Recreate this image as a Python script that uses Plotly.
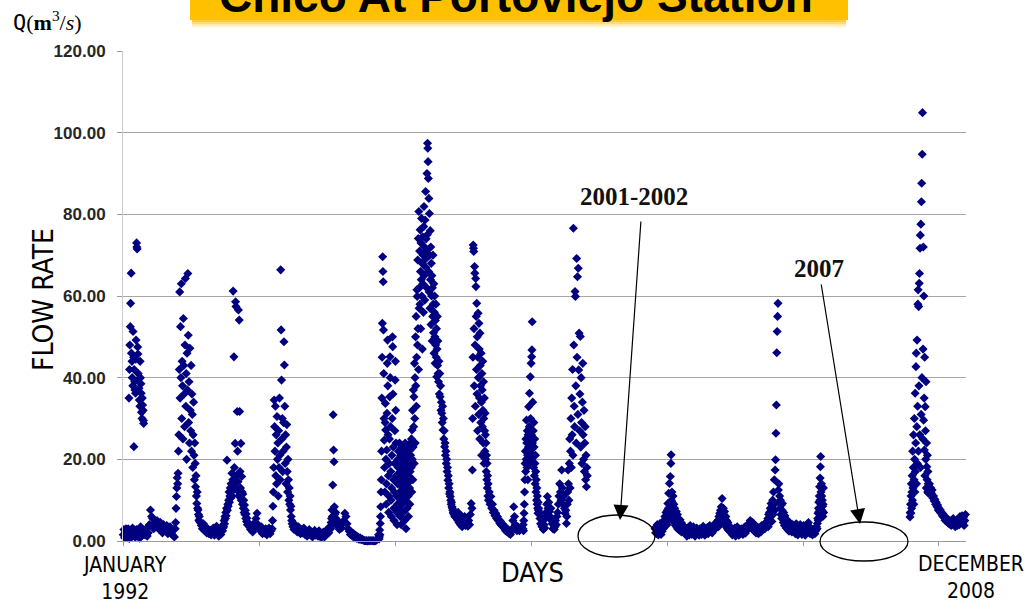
import numpy as np
import pandas as pd
import plotly.graph_objects as go

# ---------------- DATA (daily flow, Chico river at Portoviejo) ----------------
# each season: start = days after 1992-01-01, step = days between readings
BASE_DATE = "1992-01-01"

q1992_jan = [1.5, 2.8, 0.8, 2.2, 3, 1.2]
q1992_wet = [1.2, 2.5, 0.8, 3, 1.6, 2.2, 35, 0.6, 42, 48, 1.8, 52.5, 58.2, 2.6, 65.6, 46, 1, 44, 40, 3.2,
             38, 51.3, 1.4, 45, 23.1, 42, 2, 39, 37, 0.9, 36.2, 44.5, 49.2, 2.8, 73, 72, 71.5, 1.5, 47.5, 45.8,
             41, 2.2, 39.6, 37.4, 34.5, 0.7, 33, 44, 40, 3.5, 38.5, 36.2, 31.5, 1.3, 30, 35, 33.3, 2.4, 32, 29.5, 28.8]
q1992_dry = [2.5, 1.5, 3, 1.2, 2, 4, 7.6, 6, 5.5, 3, 4.5, 3.5, 5, 4, 2.8, 4.6, 3.5, 2, 4, 3, 2.5, 3.8, 1.8,
             2.5, 3.5, 2, 1.5, 2.8, 1]
q1993_wet = [3, 4.5, 8, 10.9, 13, 15.5, 14, 16.6, 22, 26, 42, 61, 35, 52.5, 40, 63, 30, 44, 38, 25,
             54.5, 43, 36, 28, 48, 64.3, 33, 41, 20, 46, 37, 65.5, 50.4, 29, 39, 24, 47.2, 32, 27, 43,
             22, 36, 31, 18, 26, 34, 21, 15, 24, 19, 13.3, 16, 11, 9.2, 12, 8, 7.6, 6.5, 5.1, 6, 4.8]
q1993_dry = [4.5, 3.8, 3, 4.2, 2.5, 3.4, 2, 3, 1.8, 2.6, 1.5, 2.2, 3.2, 1.4, 2.5, 3.6, 2, 1.2, 2.8, 1.6, 2.4]
q1994_wet = [2.5, 3.2, 4, 3.5, 5, 4.2, 6, 5.5, 7, 6.2, 8, 19.8, 7.5, 9, 8.5, 10, 12, 9.5, 11, 13,
             10.5, 14, 12, 16.6, 11, 15, 61.2, 13.5, 45.1, 18, 14, 23.9, 58.6, 57.4, 16, 12.5, 31.7, 22, 14.5, 56.6,
             11, 54.1, 31.7, 17, 13, 23.9, 10, 15.8, 12, 9, 11.5, 8, 10, 7, 8.8, 6.5, 7.5, 5.5, 6.6, 4.8,
             5.6, 4, 4.6]
q1994_dry = [4.2, 3.5, 2.8, 3.6, 2.2, 3, 4.5, 5.5, 6.8, 4, 3.2, 2.5, 3.5, 1.8, 2.6, 2, 3, 1.5, 2.4, 3.2, 1.8, 2.5]
q1995_wet = [3, 5, 8.5, 12, 18, 34.5, 28, 22, 33, 16, 26, 14, 30.5, 20, 24, 11, 27, 18, 35, 21,
             15, 66.4, 51.7, 39.4, 25, 30, 17, 22, 29, 48.8, 43.1, 33, 19, 26, 14, 23, 28.5, 17, 12, 20,
             15, 10, 13, 9, 11, 7.6, 8.5, 6, 5, 4.2]
q1995_dry = [3.5, 2.8, 4, 3, 2.2, 3.5, 2.5, 1.8, 2.8, 2, 3.2, 1.6, 2.4, 1.2, 2, 2.8, 1.5, 2.2, 1, 1.8,
             2.6, 1.4, 2, 1.2, 2.5, 1.6, 0.8, 1.5, 2.2, 1, 1.8, 2.5, 3, 2, 3.5]
q1996_wet = [3, 4.5, 5.5, 7.6, 6, 13.7, 30.9, 22.3, 19.4, 8.4, 6.5, 5.1, 7, 5.5, 4.5, 3.8, 5, 4]
q1996_dry = [3.5, 2.8, 4, 3.2, 4.5, 5, 6.8, 6, 4.2, 3, 2.4, 1.6, 2.2, 1.2, 1.8, 0.8, 1.4, 0.6, 1, 0.4,
             0.8, 0.3, 0.5, 0.2]
q1996_zero = [0.1, 0.05, 0.1, 0, 0.1, 0.05, 0.1, 0.05, 0.1, 0, 0.1, 0.2, 0.5, 1.5]
q1997_rise = [0.5, 1, 2.7, 1.5, 4.3, 6, 8.4, 12]
q1997_wet = [15, 22, 35, 45, 53.3, 69.6, 66, 63.5, 51.7, 41, 30, 24.7, 18, 12, 29, 33.7, 27.2, 20, 9, 14,
             22.3, 31.3, 43.5, 49.2, 38, 26, 16, 7, 11, 19, 25, 35.3, 45.1, 40, 28, 17, 10, 6, 13, 21,
             30, 50, 47.6, 36, 23, 15, 8, 5, 12, 19, 27, 39.4, 44, 32, 24, 16, 11, 7, 4, 9, 14, 20, 18]
q1997_mid = [22, 15, 8, 19, 24, 12, 6, 17, 21, 10, 4, 14, 23, 18, 9, 13, 20, 16, 7, 11,
             22, 19, 12, 5, 15, 24, 17, 10, 3, 13, 21, 18, 8, 14, 23, 20, 11, 6, 16, 22, 19, 13, 9, 17, 24, 21, 15]
q1998_rise = [18, 25, 12, 27.2, 20, 32, 15, 23, 37, 28, 35.3, 19, 43.5, 30, 40, 24, 50, 38, 55, 33,
              45, 61.5, 59.9, 48, 68.8, 52, 74.1, 42, 80.7, 57]
q1998_peak = [62, 71, 58, 76.2, 66, 52, 73, 64, 79, 60, 68, 47, 74.5, 63, 70, 56, 77, 81.9, 65, 72,
              59, 78.6, 69, 85.6, 67, 74, 71, 62, 90, 75, 97.4, 96.2, 92.9, 88.8, 66, 83.9, 61, 80.2, 70, 57,
              76, 64, 72, 53, 68, 60, 65, 49, 62, 55, 70, 58, 51, 63, 46, 56, 60, 50, 43.5, 54,
              48, 58, 45, 52, 40.2, 47, 55, 43, 49, 41]
q1998_fall = [39, 44, 36, 41, 35.3, 38, 32, 34, 31.3, 29, 33, 27.2, 30, 25, 27, 23.1, 24, 21, 22, 19,
              20, 17, 18, 14.9, 16, 13, 14, 11.5, 12, 10.9, 10, 9, 9.5, 8.4, 8, 7.5, 7, 6.8, 6.5, 7.2,
              6, 6.5, 5.8]
q1998_dry = [6, 5.2, 7, 4.5, 5.8, 4, 6.2, 3.5, 5, 4.2, 6, 3.8, 5.5, 4.5, 3.6, 5, 4, 6.5, 9.2, 8]
q1999_wet = [17.4, 30, 45, 72.5, 71.7, 70.9, 52, 38, 67.2, 65.6, 48, 33, 64.3, 62.3, 55, 42, 58.2, 36, 50, 27,
             45, 55.8, 40, 31, 53.3, 47, 35, 25, 50.9, 43, 38, 29, 46, 34, 21, 41, 37, 28, 44, 32,
             24, 39, 30, 19, 35, 27, 22, 31.3, 26, 20, 24, 17, 21, 15, 19, 13, 16, 11, 14, 10]
q1999_dry = [12, 9, 10.9, 8, 9, 7, 7.5, 6.2, 6.8, 5.5, 6, 5, 5.2, 4.3, 4.8, 3.8, 4.2, 3.5, 3.8, 3,
             2.5, 3.2, 2.2, 2.8, 1.9, 2.4, 1.6, 2.2, 3, 5, 8.4, 6, 4, 3, 2.5, 3.5, 3, 2.5]
q2000_wet = [3, 4, 2.5, 5, 6.8, 9, 12, 15, 19, 22, 17, 25, 20, 29.6, 24, 18, 27, 21, 15, 26,
             23, 32.9, 19, 28, 36.2, 22, 25, 40.2, 30, 20, 43.5, 26, 45.1, 46.8, 53.7, 24, 34, 21, 27, 18,
             29, 23, 16, 25, 19, 14, 21, 17, 12, 15, 10, 13, 9, 11, 8, 6.8, 9.5, 7.5, 8]
q2000_dry = [7, 5.5, 4.2, 6, 3.5, 5, 2.8, 4, 3.2, 5.5, 7, 9, 10.9, 8, 9.5, 7.2, 6, 8, 5, 4.2,
             3, 4.5, 2.8, 3.5, 5, 4, 6, 7, 9, 11, 14, 12, 10, 17.4, 13, 9, 11, 8, 6.8, 7.5]
q2001_wet = [4.3, 6, 9, 12, 17.4, 14, 10, 19, 25, 13, 22, 30, 18, 35, 26, 42, 21, 76.6, 48, 33,
             28, 61.1, 59.9, 38, 24, 69.2, 45, 64.7, 31, 66.8, 41.9, 50.9, 27, 36, 50.1, 23, 40, 29, 19, 34,
             43.5, 26, 20, 32, 17, 24, 28, 15, 21, 13.3, 18, 16]
q2002_base = [3, 2, 3.5, 1.8, 4, 2.5, 1.5, 3.2, 2.2, 4.3, 2.8, 1.6, 3.5, 2.4, 4, 3, 5, 4.5, 6, 5, 7, 6]
q2003_wet = [4, 7.5, 5, 9.2, 6.5, 8, 11.7, 5.5, 7, 14.1, 9, 6, 15.8, 8.5, 19, 21.1, 10, 7, 12, 9.5,
             6.5, 8.4, 11, 5.5, 7.8, 9, 4.5, 6.8, 8, 5, 7, 3.8, 6, 4.5, 7.2, 3.5, 5.5, 4.2, 6.5, 3,
             5, 4, 2.8, 4.8, 3.5, 2.7, 4.2, 3.2, 5.2, 2.5, 3.8, 3, 4.5, 2.2, 3.6, 2.8, 4, 2.4, 3.2]
q2003_dry = [2.5, 3.5, 1.8, 2.8, 1.2, 3.2, 2, 1.5, 3.8, 2.4, 1.6, 2.8, 3.5, 2, 1.2, 2.6, 3.2, 1.8, 2.4, 1.4,
             3, 2.2, 1.6, 2.8, 3.6, 2.2, 1.4, 2.8, 2, 3.3, 1.8, 2.6, 3.8, 2.4, 3, 2, 2.8, 3.5, 4.2, 3, 3.8, 4.5]
q2004_wet = [4, 5.1, 3.5, 6, 4.8, 6.8, 5.5, 7.5, 4.5, 8.4, 6.2, 10.4, 7, 5.2, 8, 6.5, 4.5, 7.2, 5.8, 4,
             6, 3.5, 5, 4.2, 3, 4.5, 3.2, 2.6, 3.8, 2.5, 3]
q2004_dry = [2.2, 3, 1.5, 2.6, 1.8, 3.2, 1.2, 2.4, 3.5, 2, 1.4, 2.8, 1.8, 3, 2.2, 1.6, 2.6, 3.4, 1.9, 2.5,
             3.8, 2.8, 4.2, 3.5, 5, 4, 3, 4.5, 3.2, 2.4, 3.6, 2, 2.8, 3.4, 1.8, 2.6, 3.2, 2.2, 3.8, 2.8,
             3.3, 4, 3, 4.5, 3.6]
q2005_wet = [4, 5.5, 3.5, 6.5, 4.8, 7, 5.2, 8, 6, 9.2, 7, 4.8, 8.5, 10, 6.5, 12, 9, 15, 7.5, 17.4,
             19.9, 26.4, 33.3, 46.1, 51.3, 55, 58.2, 12.5, 14, 9.5, 11, 8, 10, 6.5, 8.8, 5.5, 7.5, 9.2, 6, 4.5,
             7, 5, 3.8, 6.2, 4.2, 5.5, 3.2, 4.8, 3.6, 5, 2.8, 4.2, 3.3, 2.4, 3.8, 2.9, 4.4, 3.2, 2.6, 3.6,
             2.2, 3.1, 4, 2.7]
q2005_dry = [2.5, 3.5, 1.8, 4.2, 2.8, 1.5, 3.2, 2.2, 4, 3, 1.6, 2.6, 3.8, 2.2, 1.4, 3, 2, 3.5, 4.5, 2.4,
             1.8, 3.2, 2.6, 1.5, 2.2, 3, 1.8, 2.5, 3.5]
q2006_wet = [3, 4.3, 5.5, 6.8, 5, 8, 9.5, 7.2, 11, 13.3, 10, 15.4, 18.2, 20.7, 12, 9, 14, 11, 7.5, 10,
             8.5, 6, 9, 13, 7]
q2008_wet = [5.9, 7, 9, 6.8, 11, 14, 8, 12, 16, 10, 22, 13, 18, 26, 9, 15, 30, 20, 12, 36.2,
             17, 24, 42.7, 46, 14, 28, 49.2, 19, 33, 58, 61.5, 22, 57.4, 38, 63.1, 65.5, 26, 71.7, 74.9, 18,
             77.6, 31, 83.1, 87.6, 40, 94.7, 104.9, 25, 47, 72, 29.6, 60, 35, 22.3, 45, 16, 32.9, 27, 20, 39,
             13, 24, 18.2, 15, 21, 12, 17, 14, 11.7, 13]
q2008_dry = [14, 12, 13, 11.7, 12.5, 10.5, 11, 9.8, 10.2, 9, 9.5, 8.4, 8.8, 7.6, 8, 7.2, 7.6, 6.8, 7, 6.2,
             6.6, 5.8, 6.2, 5.1, 5.6, 4.8, 5.4, 4.5, 5.2, 4.2, 5, 4.6, 3.8, 4.8, 4.2, 5.5, 4, 4.6, 3.5, 4.4,
             5, 3.8, 4.6, 5.5, 4, 6, 4.8, 5.4, 6.2, 4.4, 5.8, 3.8, 5, 6.5]

seg_start = [0, 30, 152, 382, 566, 730, 920, 1095, 1248, 1526, 1582, 1774, 1882, 1898, 2024, 2118, 2178,
             2319, 2451, 2568, 2692, 2940, 3060, 3260, 3912, 4000, 4122, 4372, 4468, 4738, 4932, 5104,
             5787, 5930]
seg_step = [5, 2, 8, 3, 8, 3, 8, 3, 8, 3, 8, 8, 2, 2, 2, 2, 2,
            3, 6, 2, 6, 2, 5, 3, 4, 2, 6, 3, 6, 3, 6, 2,
            2, 5]
seg_values = [q1992_jan, q1992_wet, q1992_dry, q1993_wet, q1993_dry, q1994_wet, q1994_dry, q1995_wet,
              q1995_dry, q1996_wet, q1996_dry, q1996_zero, q1997_rise, q1997_wet, q1997_mid, q1998_rise,
              q1998_peak, q1998_fall, q1998_dry, q1999_wet, q1999_dry, q2000_wet, q2000_dry, q2001_wet,
              q2002_base, q2003_wet, q2003_dry, q2004_wet, q2004_dry, q2005_wet, q2005_dry, q2006_wet,
              q2008_wet, q2008_dry]

y_ticks = [0, 20, 40, 60, 80, 100, 120]

# ---------------- BUILD SERIES ----------------
base = pd.Timestamp(BASE_DATE)
dates, flows = [], []
for s, st, vals in zip(seg_start, seg_step, seg_values):
    d = base + pd.to_timedelta(s + st * np.arange(len(vals)), unit="D")
    dates.extend(d)
    flows.extend(vals)

fig = go.Figure()
fig.add_trace(go.Scatter(
    x=dates, y=flows, mode="markers", cliponaxis=False,
    marker=dict(symbol="diamond", size=7, color="#000080", line=dict(width=0)),
    hoverinfo="skip", showlegend=False))

# ---------------- LAYOUT ----------------
W, H = 1028, 604
L, R, T, B = 123, 966, 51, 541


def px(x):
    return (x - L) / (R - L)


def py(y):
    return (B - y) / (B - T)


narrow = "Liberation Sans Narrow, Arial Narrow, DejaVu Sans Condensed, Liberation Sans, Arial"
serif = "Liberation Serif, Times New Roman, serif"

fig.update_layout(
    width=W, height=H, margin=dict(l=L, r=W - R, t=T, b=H - B, pad=0),
    paper_bgcolor="white", plot_bgcolor="white", showlegend=False,
    xaxis=dict(type="date",
               range=[base + pd.Timedelta(days=-2), base + pd.Timedelta(days=6199)],
               tickmode="array",
               tickvals=[base + pd.Timedelta(days=1000 * k) for k in range(7)],
               showticklabels=False, ticks="outside", ticklen=4, tickcolor="#9a9a9a",
               showgrid=False, showline=True, linecolor="#9a9a9a", linewidth=1, zeroline=False),
    yaxis=dict(range=[0, 120], tickmode="array", tickvals=y_ticks, tickformat=".2f",
               showgrid=True, gridcolor="#a6a6a6", gridwidth=1,
               showline=True, linecolor="#cccccc", linewidth=1, zeroline=False,
               ticks="outside", ticklen=5, tickcolor="#9a9a9a", ticklabelstandoff=8,
               tickfont=dict(family="Liberation Sans, Arial", size=17, color="#262626", weight="bold")),
)

shapes = []
# title banner (yellow box with soft lower edge)
shapes.append(dict(type="rect", xref="paper", yref="paper", x0=px(190), x1=px(848), y0=py(20), y1=py(-20),
                   fillcolor="#FFC000", line=dict(width=0), layer="below"))
for (a, b_, c) in [(20, 22, "#FFCC33"), (22, 24, "#FFDC75"), (24, 26, "#FFEBB0"), (26, 28, "#FFF7E0")]:
    shapes.append(dict(type="rect", xref="paper", yref="paper", x0=px(192), x1=px(846), y0=py(b_), y1=py(a),
                       fillcolor=c, line=dict(width=0), layer="below"))
# ellipses marking missing years
shapes.append(dict(type="circle", xref="paper", yref="paper", x0=px(578), x1=px(655), y0=py(557), y1=py(515),
                   line=dict(color="black", width=1.3)))
shapes.append(dict(type="circle", xref="paper", yref="paper", x0=px(820), x1=px(908), y0=py(561), y1=py(522),
                   line=dict(color="black", width=1.3)))
fig.update_layout(shapes=shapes)

ann = []
ann.append(dict(text="<b>Chico At Portoviejo Station</b>", x=px(516), y=py(-4), xref="paper", yref="paper",
                showarrow=False, xanchor="center", yanchor="middle",
                font=dict(family="Liberation Sans, Arial", size=46, color="black")))
ann.append(dict(text="Q<span style='font-family:Liberation Serif'>(<b>m</b><sup>3</sup>/<i>s</i>)</span>",
                x=px(11), y=py(21), xref="paper", yref="paper", showarrow=False,
                xanchor="left", yanchor="middle",
                font=dict(family="DejaVu Sans Mono, Liberation Mono", size=22, color="black")))
ann.append(dict(text="FLOW RATE", x=px(43), y=py(300), xref="paper", yref="paper", showarrow=False,
                textangle=-90, xanchor="center", yanchor="middle",
                font=dict(family=narrow, size=28, color="black")))
ann.append(dict(text="DAYS", x=px(532), y=py(572), xref="paper", yref="paper", showarrow=False,
                xanchor="center", yanchor="middle", font=dict(family=narrow, size=27, color="black")))
ann.append(dict(text="JANUARY<br>1992", x=px(125), y=py(578), xref="paper", yref="paper", showarrow=False,
                xanchor="center", yanchor="middle", font=dict(family=narrow, size=21, color="black")))
ann.append(dict(text="DECEMBER<br>2008", x=px(971), y=py(577), xref="paper", yref="paper", showarrow=False,
                xanchor="center", yanchor="middle", font=dict(family=narrow, size=21, color="black")))
ann.append(dict(text="<b>2001-2002</b>", x=px(634), y=py(196), xref="paper", yref="paper", showarrow=False,
                xanchor="center", yanchor="middle", font=dict(family=serif, size=25, color="#111")))
ann.append(dict(text="<b>2007</b>", x=px(819), y=py(268), xref="paper", yref="paper", showarrow=False,
                xanchor="center", yanchor="middle", font=dict(family=serif, size=25, color="#111")))
# arrows
ann.append(dict(text="", x=px(620), y=py(520), xref="paper", yref="paper", showarrow=True,
                ax=21, ay=-300, arrowhead=2, arrowsize=2.5, arrowwidth=1.2, arrowcolor="black"))
ann.append(dict(text="", x=px(860), y=py(524), xref="paper", yref="paper", showarrow=True,
                ax=-39, ay=-241, arrowhead=2, arrowsize=2.5, arrowwidth=1.2, arrowcolor="black"))
fig.update_layout(annotations=ann)

fig.write_html("out.html")
